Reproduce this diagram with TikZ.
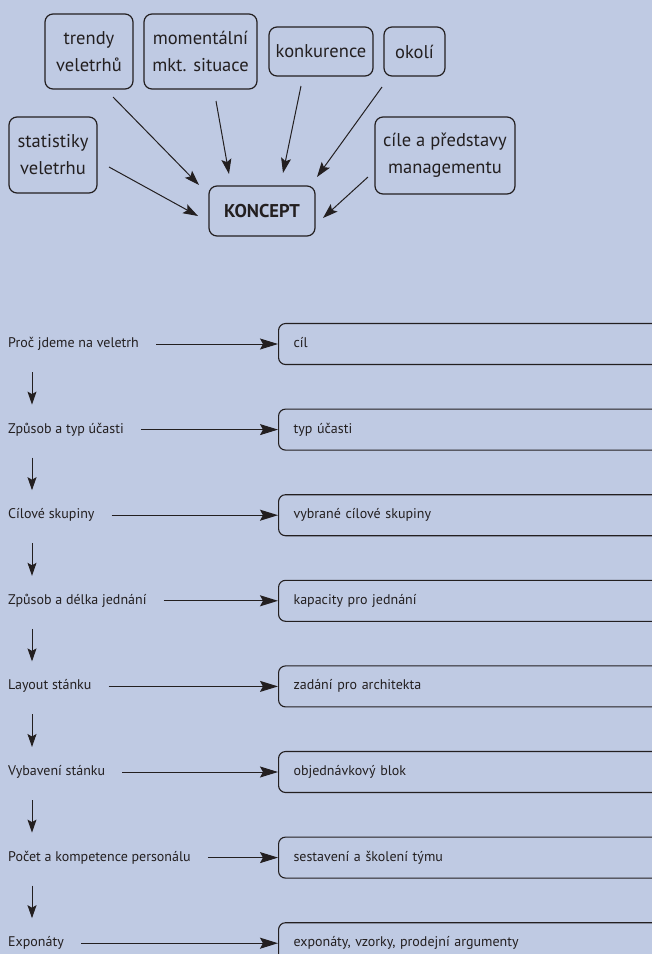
\documentclass[tikz,border=0pt]{standalone}
\usepackage{fontspec}
\setmainfont{PT Sans}
\usetikzlibrary{arrows.meta,calc}
\definecolor{bg}{RGB}{191,202,227}
\definecolor{ink}{RGB}{35,31,32}
\tikzset{
  topbox/.style={draw=ink,line width=1.2pt,rounded corners=8pt,align=center,
    font=\fontsize{18.5}{27}\selectfont,text=ink,inner sep=0pt},
  lab/.style={anchor=west,inner xsep=0pt,font=\fontsize{14}{16}\selectfont,text=ink,
    text height=10pt,text depth=3pt},
  rbox/.style={anchor=west,draw=ink,line width=1.1pt,rounded corners=7pt,minimum height=41pt,
    text width=380pt,align=left,inner xsep=15pt,font=\fontsize{14}{16}\selectfont,text=ink,
    text height=10pt,text depth=3pt},
  darr/.style={draw=ink,line width=1pt,-{Stealth[length=15pt,width=10pt,inset=3pt]}},
  harr/.style={draw=ink,line width=1pt,-{Stealth[length=18pt,width=11pt,inset=3pt]},shorten <=17pt},
  varr/.style={draw=ink,line width=1pt,-{Stealth[length=13pt,width=9pt,inset=2.5pt]}}
}
\begin{document}
\begin{tikzpicture}[x=1pt,y=-1pt]
\fill[bg] (0,0) rectangle (652,954);
\useasboundingbox (0,0) rectangle (652,954);
% top boxes
\node[topbox,minimum width=88pt,minimum height=75pt] (trendy) at (89,51.5) {trendy\\veletrhů};
\node[topbox,minimum width=113pt,minimum height=75pt] (moment) at (200.5,51.5) {momentální\\mkt. situace};
\node[topbox,minimum width=104pt,minimum height=49pt] (konk) at (321,51.5) {konkurence};
\node[topbox,minimum width=61pt,minimum height=49pt] (okoli) at (414.5,51.5) {okolí};
\node[topbox,minimum width=88pt,minimum height=76pt] (stat) at (53,155) {statistiky\\veletrhu};
\node[topbox,minimum width=140pt,minimum height=77pt] (cile) at (445,155.5) {cíle a představy\\managementu};
\node[topbox,minimum width=106pt,minimum height=50pt,font=\fontsize{18.5}{27}\selectfont\bfseries] (koncept) at (262,211) {KONCEPT};
% arrow end points
\coordinate (s1) at (109,167); \coordinate (e1) at (198,216);
\coordinate (s2) at (113,97);  \coordinate (e2) at (199,185);
\coordinate (s3) at (216,101); \coordinate (e3) at (229,174);
\coordinate (s4) at (301,86);  \coordinate (e4) at (283,173);
\coordinate (s5) at (382,87);  \coordinate (e5) at (317,177);
\coordinate (s6) at (368,177); \coordinate (e6) at (323,218);
\foreach \k in {1,...,6}{\draw[darr] (s\k) -- (e\k);}
% bottom rows
\foreach \i/\l/\r in {
  0/{Proč jdeme na veletrh}/{cíl},
  1/{Způsob a typ účasti}/{typ účasti},
  2/{Cílové skupiny}/{vybrané cílové skupiny},
  3/{Způsob a délka jednání}/{kapacity pro jednání},
  4/{Layout stánku}/{zadání pro architekta},
  5/{Vybavení stánku}/{objednávkový blok},
  6/{Počet a kompetence personálu}/{sestavení a školení týmu},
  7/{Exponáty}/{exponáty, vzorky, prodejní argumenty}}{
  \node[lab] (L\i) at (8,{344+85.6*\i}) {\l};
  \node[rbox] (R\i) at (278,{344+85.6*\i}) {\r};
  \draw[harr] (L\i.east) -- (R\i.west);
}
\foreach \i [evaluate=\i as \j using int(\i+1)] in {0,...,6}{
  \draw[varr] ($(L\i.west)+(24,28)$) -- ($(L\j.west)+(24,-25)$);
}
\end{tikzpicture}
\end{document}
